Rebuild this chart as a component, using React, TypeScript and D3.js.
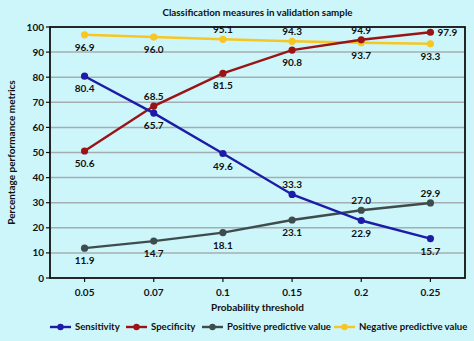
import React from "react";
import * as d3 from "d3";

const thresholds = ["0.05", "0.07", "0.1", "0.15", "0.2", "0.25"];
const sensitivity = [80.4, 65.7, 49.6, 33.3, 22.9, 15.7];
const specificity = [50.6, 68.5, 81.5, 90.8, 94.9, 97.9];
const ppv = [11.9, 14.7, 18.1, 23.1, 27.0, 29.9];
const npv = [96.9, 96.0, 95.1, 94.3, 93.7, 93.3];
const yTicks = [0, 10, 20, 30, 40, 50, 60, 70, 80, 90, 100];

// label placement: "b" below, "a" above, "r" right
const sensPos = ["b", "b", "b", "a", "b", "b"];
const specPos = ["b", "a", "b", "b", "a", "r"];
const ppvPos = ["b", "b", "b", "b", "a", "a"];
const npvPos = ["b", "b", "a", "a", "b", "b"];

const seriesNames = ["Sensitivity", "Specificity", "Positive predictive value", "Negative predictive value"];
const seriesValues = [sensitivity, specificity, ppv, npv];
const seriesPos = [sensPos, specPos, ppvPos, npvPos];
const seriesColors = ["#1c1ca6", "#9a1416", "#3e4c4c", "#f6c623"];

const W = 474, H = 341;
const M = { left: 50, right: 9, top: 27, bottom: 63 };
const FONT = "Lato, sans-serif";

export default function App() {
  const x = d3.scalePoint<string>().domain(thresholds).range([M.left, W - M.right]).padding(0.5);
  const y = d3.scaleLinear().domain([0, 100]).range([H - M.bottom, M.top]);
  const line = d3.line<number>().x((_, i) => x(thresholds[i])!).y((d) => y(d));
  const order = [3, 2, 1, 0];
  const legendX = [50, 126, 202, 334];
  return (
    <svg width={W} height={H} style={{ position: "absolute", left: 0, top: 0, background: "#cdf6fb" }} fontFamily={FONT}>
      <rect x={0} y={0} width={W} height={H} fill="#cdf6fb" />
      <text x={(M.left + W - M.right) / 2} y={16} textAnchor="middle" fontSize={9.8} fontWeight={700} fill="#111">
        Classification measures in validation sample
      </text>
      {yTicks.map((t) => (
        <g key={t}>
          {t > 0 && t < 100 && (
            <line x1={M.left} x2={W - M.right} y1={y(t)} y2={y(t)} stroke="#a4aeb0" strokeWidth={1.5} />
          )}
          <line x1={M.left - 4} x2={M.left} y1={y(t)} y2={y(t)} stroke="#111" strokeWidth={1.2} />
          <text x={M.left - 6} y={y(t)} dy="0.35em" textAnchor="end" fontSize={10} fontWeight={700} fill="#111">
            {t}
          </text>
        </g>
      ))}
      {thresholds.map((t) => (
        <g key={t}>
          <line x1={x(t)} x2={x(t)} y1={H - M.bottom} y2={H - M.bottom + 4} stroke="#111" strokeWidth={1.2} />
          <text x={x(t)} y={H - M.bottom + 18} textAnchor="middle" fontSize={10} fontWeight={700} fill="#111">
            {t}
          </text>
        </g>
      ))}
      <rect x={M.left} y={M.top} width={W - M.right - M.left} height={H - M.bottom - M.top} fill="none" stroke="#111" strokeWidth={1.8} />
      <text x={(M.left + W - M.right) / 2} y={311} textAnchor="middle" fontSize={10} fontWeight={700} fill="#111">
        Probability threshold
      </text>
      <text transform={`translate(15,${(M.top + H - M.bottom) / 2}) rotate(-90)`} textAnchor="middle" fontSize={10} fontWeight={700} fill="#111">
        Percentage performance metrics
      </text>
      {order.map((si) => (
        <g key={si}>
          <path d={line(seriesValues[si])!} fill="none" stroke={seriesColors[si]} strokeWidth={2.4} />
          {seriesValues[si].map((v, i) => (
            <circle key={i} cx={x(thresholds[i])} cy={y(v)} r={3.6} fill={seriesColors[si]} />
          ))}
        </g>
      ))}
      {order.map((si) => (
        <g key={"l" + si}>
          {seriesValues[si].map((v, i) => {
            const p = seriesPos[si][i];
            const cx = x(thresholds[i])!;
            const cy = y(v);
            const lx = p === "r" ? cx + 7 : cx;
            const ly = p === "a" ? cy - 6 : p === "b" ? cy + 16 : cy + 4;
            return (
              <text key={i} x={lx} y={ly} textAnchor={p === "r" ? "start" : "middle"} fontSize={10} fontWeight={700} fill="#111">
                {v.toFixed(1)}
              </text>
            );
          })}
        </g>
      ))}
      {seriesNames.map((n, i) => (
        <g key={n}>
          <line x1={legendX[i]} x2={legendX[i] + 21} y1={327} y2={327} stroke={seriesColors[i]} strokeWidth={2.4} />
          <circle cx={legendX[i] + 10.5} cy={327} r={3.2} fill={seriesColors[i]} />
          <text x={legendX[i] + 25} y={327} dy="0.35em" fontSize={9.6} fontWeight={700} fill="#111">
            {n}
          </text>
        </g>
      ))}
    </svg>
  );
}
